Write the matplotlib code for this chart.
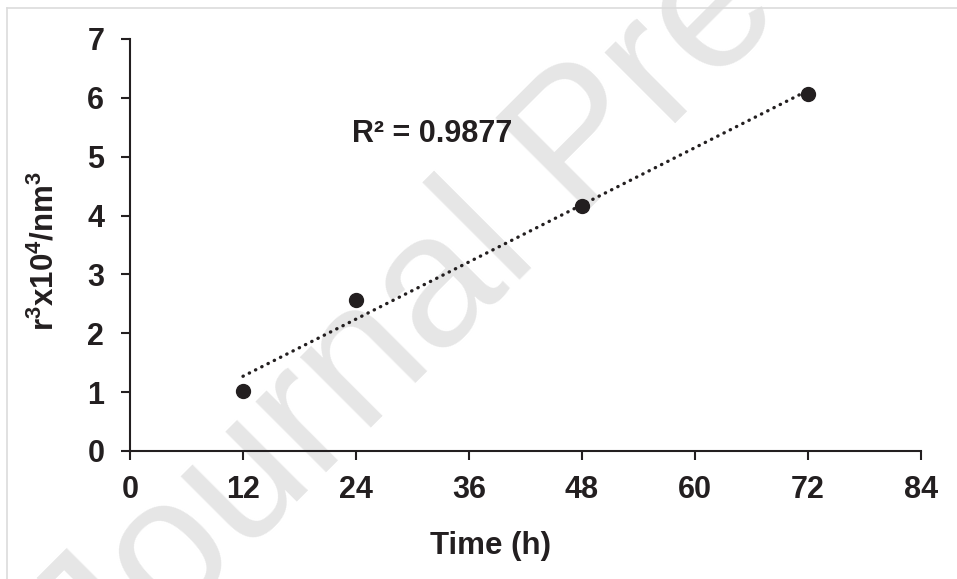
import matplotlib
matplotlib.use("Agg")
import matplotlib.pyplot as plt
import numpy as np

plt.rcParams['font.family'] = ['Liberation Sans', 'DejaVu Sans']
plt.rcParams['mathtext.fontset'] = 'custom'
plt.rcParams['mathtext.default'] = 'regular'

# data
time_h = [12, 24, 48, 72]
r3 = [1.02, 2.56, 4.17, 6.07]
x_ticks = [0, 12, 24, 36, 48, 60, 72, 84]
y_ticks = [0, 1, 2, 3, 4, 5, 6, 7]
r2_label = "R\u00b2 = 0.9877"

ink = '#231f20'
W, H = 957, 579

fig = plt.figure(figsize=(W / 100, H / 100), dpi=100)
ax = fig.add_axes([130 / W, 1 - 451 / H, 791 / W, 412 / H])
ax.set_facecolor('none')

# watermark behind everything
fig.text(584 / W, 1 - 146 / H, "Journal Pre-proof", rotation=45,
         ha='center', va='center', fontsize=136, color='#e6e6e6', zorder=-5)

# border (only top and left edges are visible)
fig.add_artist(plt.Line2D([7.5 / W, 7.5 / W], [0, 1 - 8 / H],
                          transform=fig.transFigure, color='#dcdcdc', lw=1.2))
fig.add_artist(plt.Line2D([7.5 / W, 1], [1 - 8 / H, 1 - 8 / H],
                          transform=fig.transFigure, color='#dcdcdc', lw=1.2))

# linear trendline
k, b = np.polyfit(time_h, r3, 1)
xs = np.array([min(time_h), max(time_h)])
ax.plot(xs, k * xs + b, color=ink, lw=2.4, linestyle=(0, (0.1, 2.0)),
        dash_capstyle='round', zorder=2)
ax.plot(time_h, r3, 'o', color=ink, ms=10, zorder=3)

ax.text(23.6, 5.25, r2_label, fontsize=22, fontweight='bold', color=ink,
        ha='left', va='baseline')

ax.set_xlim(0, 84)
ax.set_ylim(0, 7)
ax.set_xticks(x_ticks)
ax.set_yticks(y_ticks)
for s in ['top', 'right']:
    ax.spines[s].set_visible(False)
for s in ['left', 'bottom']:
    ax.spines[s].set_linewidth(1.5)
    ax.spines[s].set_color(ink)
ax.tick_params(axis='both', direction='out', length=6.5, width=1.5,
               color=ink, labelcolor=ink, labelsize=22)
ax.tick_params(axis='x', pad=11)
ax.tick_params(axis='y', pad=12)
for lab in ax.get_xticklabels() + ax.get_yticklabels():
    lab.set_fontweight('bold')

ax.set_xlabel("Time (h)", fontsize=22.5, fontweight='bold', color=ink)
ax.xaxis.set_label_coords((491 - 130) / 791, (451 - 531) / 412)
ax.set_ylabel(r"r$^3$x10$^4$/nm$^3$", fontsize=22.5, fontweight='bold', color=ink)
ax.yaxis.set_label_coords((61 - 130) / 791, (451 - 251) / 412)

fig.savefig("out.png", dpi=100)
